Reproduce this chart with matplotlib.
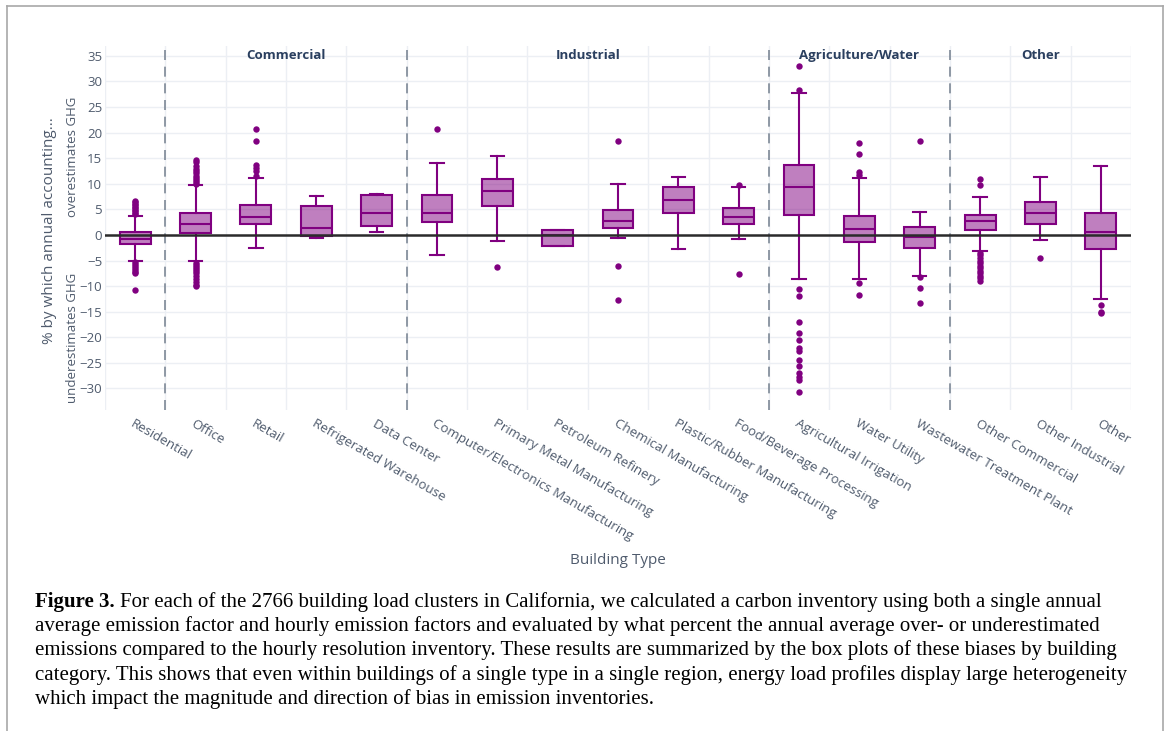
import matplotlib
matplotlib.use("Agg")
import matplotlib.pyplot as plt
from matplotlib.lines import Line2D
import numpy as np

# ---- data ----
categories = ["Residential", "Office", "Retail", "Refrigerated Warehouse", "Data Center",
              "Computer/Electronics Manufacturing", "Primary Metal Manufacturing",
              "Petroleum Refinery", "Chemical Manufacturing", "Plastic/Rubber Manufacturing",
              "Food/Beverage Processing", "Agricultural Irrigation", "Water Utility",
              "Wastewater Treatment Plant", "Other Commercial", "Other Industrial", "Other"]
q1 = [-1.8, 0.3, 2.1, -0.3, 1.8, 2.5, 5.7, -2.1, 1.4, 4.2, 2.1, 3.9, -1.4, -2.5, 1.0, 2.2, -2.7]
median = [-0.85, 2.1, 3.5, 1.3, 4.3, 4.2, 8.5, -0.1, 2.8, 6.8, 3.5, 9.3, 1.1, -0.5, 2.8, 4.2, 0.5]
q3 = [0.5, 4.2, 5.8, 5.6, 7.8, 7.7, 10.9, 1.0, 4.9, 9.4, 5.2, 13.7, 3.6, 1.6, 3.9, 6.4, 4.2]
whisker_low = [-5.0, -5.1, -2.6, -0.6, 0.5, -3.9, -1.2, -2.1, -0.7, -2.7, -0.8, -8.6, -8.6, -8.0, -3.1, -1.0, -12.6]
whisker_high = [3.7, 9.7, 11.1, 7.6, 8.0, 14.0, 15.5, 1.0, 9.9, 11.3, 9.3, 27.8, 11.1, 4.4, 7.5, 11.4, 13.5]
outliers = [
    [4.0, 4.3, 4.6, 4.9, 5.2, 5.5, 5.8, 6.1, 6.4, 6.7, -5.2, -5.6, -6.0, -6.4, -6.8, -7.2, -7.5, -10.7],
    [10.0, 10.4, 10.8, 11.2, 11.6, 12.0, 12.4, 12.8, 13.5, 14.2, 14.6,
     -5.4, -5.8, -6.2, -6.6, -7.0, -7.4, -8.0, -8.6, -9.2, -9.7, -10.0],
    [20.6, 18.3, 13.7, 13.0, 12.4, 11.6],
    [],
    [],
    [20.7],
    [-6.2],
    [],
    [18.3, -6.0, -12.8],
    [],
    [9.8, -7.7],
    [28.4, 32.9, -10.6, -12.0, -17.0, -19.1, -20.6, -22.1, -22.6, -24.5, -25.6, -26.9, -27.7, -28.3, -30.7],
    [17.9, 15.9, 12.2, 11.8, -9.3, -11.8],
    [18.3, -8.3, -10.3, -13.3],
    [9.7, 11.0, -3.5, -4.0, -4.5, -5.0, -5.5, -6.0, -6.5, -7.0, -7.5, -8.0, -8.5, -9.0],
    [-4.5],
    [-13.7, -15.0, -15.3],
]
group_names = ["", "Commercial", "Industrial", "Agriculture/Water", "Other"]
group_sizes = [1, 4, 6, 3, 3]
y_ticks = list(range(-30, 36, 5))

caption_bold = "Figure 3."
caption_lines = [
    "For each of the 2766 building load clusters in California, we calculated a carbon inventory using both a single annual",
    "average emission factor and hourly emission factors and evaluated by what percent the annual average over- or underestimated",
    "emissions compared to the hourly resolution inventory. These results are summarized by the box plots of these biases by building",
    "category. This shows that even within buildings of a single type in a single region, energy load profiles display large heterogeneity",
    "which impact the magnitude and direction of bias in emission inventories.",
]

W, H = 1170, 731
purple = "#800080"
tick_col = "#4f5b6d"
title_col = "#2a3f5f"

fig = plt.figure(figsize=(W / 100, H / 100), dpi=100)
fig.patch.set_facecolor("white")

ax = fig.add_axes([105 / W, 1 - 410 / H, (1131 - 105) / W, (410 - 46) / H])
ax.set_facecolor("white")

stats = []
for i, name in enumerate(categories):
    stats.append(dict(label=name, q1=q1[i], med=median[i], q3=q3[i],
                      whislo=whisker_low[i], whishi=whisker_high[i],
                      fliers=np.array(outliers[i])))

ax.bxp(stats, positions=range(len(categories)), widths=0.51, capwidths=0.22,
       patch_artist=True, showfliers=True,
       boxprops=dict(facecolor=(0.5, 0, 0.5, 0.5), edgecolor=purple, linewidth=1.5),
       medianprops=dict(color=purple, linewidth=1.5),
       whiskerprops=dict(color=purple, linewidth=1.5),
       capprops=dict(color=purple, linewidth=1.5),
       flierprops=dict(marker="o", markerfacecolor=purple, markeredgecolor="none",
                       markersize=4.6),
       zorder=3)

ax.axhline(0, color="#2b2b2b", linewidth=1.8, zorder=4)

# group separators and titles
bounds = np.cumsum(group_sizes)
for b in bounds[:-1]:
    ax.axvline(b - 0.5, color="#7d8896", linewidth=1.2, linestyle=(0, (6, 4)), zorder=2)
starts = np.concatenate([[0], bounds[:-1]])
for name, s, n in zip(group_names, starts, group_sizes):
    if name:
        ax.text(s + (n - 1) / 2, 35, name, ha="center", va="center", fontsize=9.5,
                fontweight="bold", color=title_col, family="Open Sans")

ax.set_xlim(-0.5, len(categories) - 0.5)
ax.set_ylim(-34.2, 36.9)
ax.set_yticks(y_ticks)
ax.set_yticklabels([str(v).replace("-", "\u2212") for v in y_ticks])
ax.set_xticks(range(len(categories)))
ax.set_xticklabels(categories, rotation=-30, ha="left", va="top", rotation_mode="anchor")
ax.set_xticks(np.arange(-0.5, len(categories), 1), minor=True)
ax.tick_params(axis="both", which="both", length=0, labelsize=9.5, labelcolor=tick_col)
ax.tick_params(axis="y", pad=2)
ax.tick_params(axis="x", pad=5)
for lab in ax.get_xticklabels() + ax.get_yticklabels():
    lab.set_family("Open Sans")
ax.grid(axis="y", which="major", color="#eceff4", linewidth=1, zorder=0)
ax.grid(axis="x", which="minor", color="#eceff4", linewidth=1, zorder=0)
ax.set_axisbelow(True)
for sp in ax.spines.values():
    sp.set_visible(False)

# axis titles
fig.text(618 / W, 1 - 560 / H, "Building Type", ha="center", va="center",
         fontsize=11, color=tick_col, family="Open Sans")
fig.text(50 / W, 1 - 231 / H, "% by which annual accounting...", rotation=90,
         ha="center", va="center", fontsize=11, color=tick_col, family="Open Sans")
fig.text(72 / W, 1 - 157 / H, "overestimates GHG", rotation=90,
         ha="center", va="center", fontsize=9.5, color=tick_col, family="Open Sans")
fig.text(72 / W, 1 - 338 / H, "underestimates GHG", rotation=90,
         ha="center", va="center", fontsize=9.5, color=tick_col, family="Open Sans")

# caption
cap_size = 15
baselines = [607, 631.5, 655.5, 680, 704]
bold = fig.text(35 / W, 1 - baselines[0] / H, caption_bold, fontsize=cap_size,
                fontweight="bold", family="Liberation Serif", va="baseline", color="black")
renderer = fig.canvas.get_renderer()
bw = bold.get_window_extent(renderer).width
fig.text((35 + bw + 5) / W, 1 - baselines[0] / H, caption_lines[0], fontsize=cap_size,
         family="Liberation Serif", va="baseline", color="black")
for line, yb in zip(caption_lines[1:], baselines[1:]):
    fig.text(35 / W, 1 - yb / H, line, fontsize=cap_size, family="Liberation Serif",
             va="baseline", color="black")

# page frame
frame = dict(color="#a8a8a8", linewidth=1.2, transform=None)
fig.add_artist(Line2D([7, 7], [0, H - 6], **frame))
fig.add_artist(Line2D([7, 1163], [H - 6, H - 6], **frame))
fig.add_artist(Line2D([1163, 1163], [0, H - 6], **frame))

fig.savefig("out.png", dpi=100)
